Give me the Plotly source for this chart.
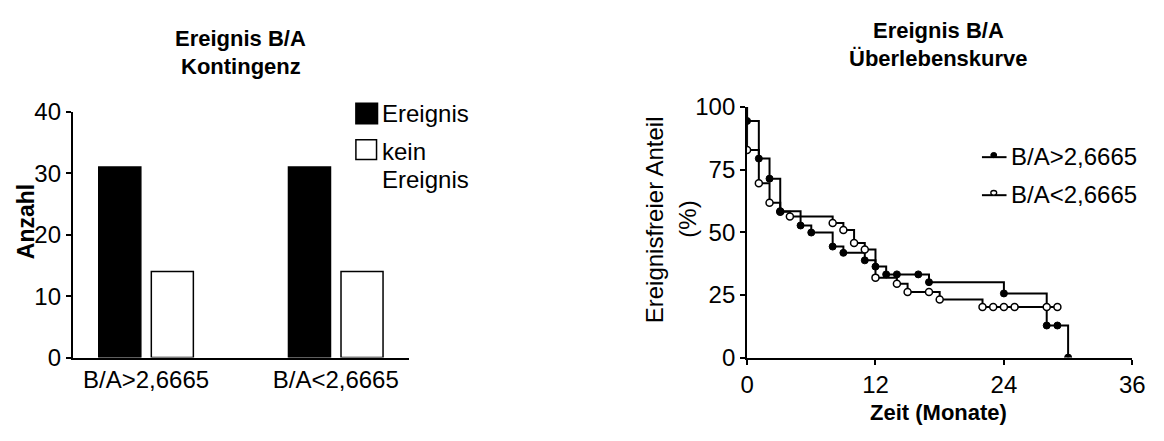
import plotly.graph_objects as go

W, H = 1164, 441
FONT = "Liberation Sans, Arial, sans-serif"

# Contingency counts
groups = ["B/A>2,6665", "B/A<2,6665"]
ereignis = [31, 31]
kein_ereignis = [14, 14]

# Event-free survival, B/A above cut-off (months, %)
hi_t = [0.0, 1.1, 2.1, 3.1, 5.0, 6.0, 8.0, 9.0, 11.0, 12.0, 13.0, 14.0, 16.0, 17.0, 24.0, 28.0, 29.0, 30.0]
hi_s = [94.4, 79.4, 71.4, 58.4, 52.7, 49.9, 44.3, 41.8, 38.8, 36.3, 33.2, 33.2, 33.2, 30.1, 25.6, 12.8, 12.8, 0.0]

# Event-free survival, B/A below cut-off (months, %)
lo_t = [0.0, 1.1, 2.1, 3.1, 4.0, 8.0, 9.0, 10.0, 11.0, 12.0, 14.0, 15.0, 17.0, 18.0, 22.0, 23.0, 24.0, 25.0, 28.0, 29.0]
lo_s = [82.8, 69.6, 61.8, 58.2, 56.3, 53.7, 50.9, 45.7, 43.1, 31.9, 29.5, 26.2, 26.2, 23.2, 20.2, 20.2, 20.2, 20.2, 20.2, 20.2]

y_ticks_bar = [0, 10, 20, 30, 40]
y_ticks_km = [0, 25, 50, 75, 100]
x_ticks_km = [0, 12, 24, 36]


def px(x):
    return x / W


def py(y):
    return 1 - y / H


fig = go.Figure()

# Bars
fig.add_trace(go.Bar(x=groups, y=ereignis, name="Ereignis", marker=dict(color="black", line=dict(color="black", width=1.5)),
                     xaxis="x", yaxis="y", showlegend=False))
fig.add_trace(go.Bar(x=groups, y=kein_ereignis, name="kein Ereignis", marker=dict(color="white", line=dict(color="black", width=1.5)),
                     xaxis="x", yaxis="y", showlegend=False))

# Survival step lines
fig.add_trace(go.Scatter(x=[0.0] + lo_t, y=[100.0] + lo_s, mode="lines", line=dict(color="black", width=2, shape="hv"),
                         xaxis="x2", yaxis="y2", showlegend=False))
fig.add_trace(go.Scatter(x=[0.0] + hi_t, y=[100.0] + hi_s, mode="lines", line=dict(color="black", width=2, shape="hv"),
                         xaxis="x2", yaxis="y2", showlegend=False))
# Symbols
fig.add_trace(go.Scatter(x=lo_t, y=lo_s, mode="markers",
                         marker=dict(symbol="circle", size=7, color="white", line=dict(color="black", width=1.5)),
                         xaxis="x2", yaxis="y2", showlegend=False))
fig.add_trace(go.Scatter(x=hi_t, y=hi_s, mode="markers",
                         marker=dict(symbol="circle", size=7, color="black", line=dict(color="black", width=1)),
                         xaxis="x2", yaxis="y2", showlegend=False))

tickfont = dict(family=FONT, size=24, color="black")
line_common = dict(showline=True, linecolor="black", linewidth=2, showgrid=False, zeroline=False, tickfont=tickfont)
tick_common = dict(ticks="outside", ticklen=5, tickwidth=2, tickcolor="black")

fig.update_layout(
    width=W, height=H, margin=dict(l=0, r=0, t=0, b=0),
    paper_bgcolor="white", plot_bgcolor="white",
    barmode="group", bargap=0.446, bargroupgap=0.2,
    xaxis=dict(domain=[px(67), px(409)], anchor="y", range=[-0.386, 1.386], ticks="", **line_common),
    yaxis=dict(domain=[py(366), py(104)], anchor="x", range=[0, 40], tickvals=y_ticks_bar, **line_common, **tick_common),
    xaxis2=dict(domain=[px(753), px(1145)], anchor="y2", range=[0, 36], tickvals=x_ticks_km, **line_common, **tick_common),
    yaxis2=dict(domain=[py(366), py(99)], anchor="x2", range=[0, 100], tickvals=y_ticks_km, **line_common, **tick_common),
    font=dict(family=FONT, color="black"),
)

ann = []


def text(s, x, y, size=24, bold=False, angle=0, xanchor="center"):
    ann.append(dict(text=f"<b>{s}</b>" if bold else s, x=px(x), y=py(y), xref="paper", yref="paper",
                    xanchor=xanchor, yanchor="middle", showarrow=False, textangle=angle,
                    font=dict(family=FONT, size=size, color="black")))


# Titles
text("Ereignis B/A", 238, 26, size=22, bold=True)
text("Kontingenz", 238, 56, size=22, bold=True)
text("Ereignis B/A", 948, 18, size=22, bold=True)
text("Überlebenskurve", 948, 47, size=22, bold=True)

# Axis titles
text("Anzahl", 20, 221, size=23, bold=True, angle=-90)
text("Ereignisfreier Anteil", 659, 219, size=24, angle=-90)
text("(%)", 692, 219, size=24, angle=-90)
text("Zeit (Monate)", 948, 425, size=22, bold=True)

# Bar legend
text("Ereignis", 380, 106, xanchor="left")
text("kein", 380, 146, xanchor="left")
text("Ereignis", 380, 176, xanchor="left")

# Survival legend
text("B/A>2,6665", 1020, 152, xanchor="left")
text("B/A<2,6665", 1020, 192, xanchor="left")

shapes = [
    dict(type="rect", xref="paper", yref="paper", x0=px(355), x1=px(377), y0=py(117), y1=py(95),
         fillcolor="black", line=dict(color="black", width=1.5)),
    dict(type="rect", xref="paper", yref="paper", x0=px(355), x1=px(376), y0=py(155), y1=py(134),
         fillcolor="white", line=dict(color="black", width=1.5)),
    dict(type="line", xref="paper", yref="paper", x0=px(992), x1=px(1017), y0=py(152.5), y1=py(152.5),
         line=dict(color="black", width=2)),
    dict(type="circle", xref="paper", yref="paper", x0=px(1001), x1=px(1007), y0=py(153), y1=py(147.5),
         fillcolor="black", line=dict(color="black", width=1)),
    dict(type="line", xref="paper", yref="paper", x0=px(992), x1=px(1017), y0=py(193), y1=py(193),
         line=dict(color="black", width=2)),
    dict(type="circle", xref="paper", yref="paper", x0=px(1001), x1=px(1007), y0=py(193), y1=py(188),
         fillcolor="white", line=dict(color="black", width=1.3)),
]

fig.update_layout(annotations=ann, shapes=shapes)

fig.write_html("out.html")
